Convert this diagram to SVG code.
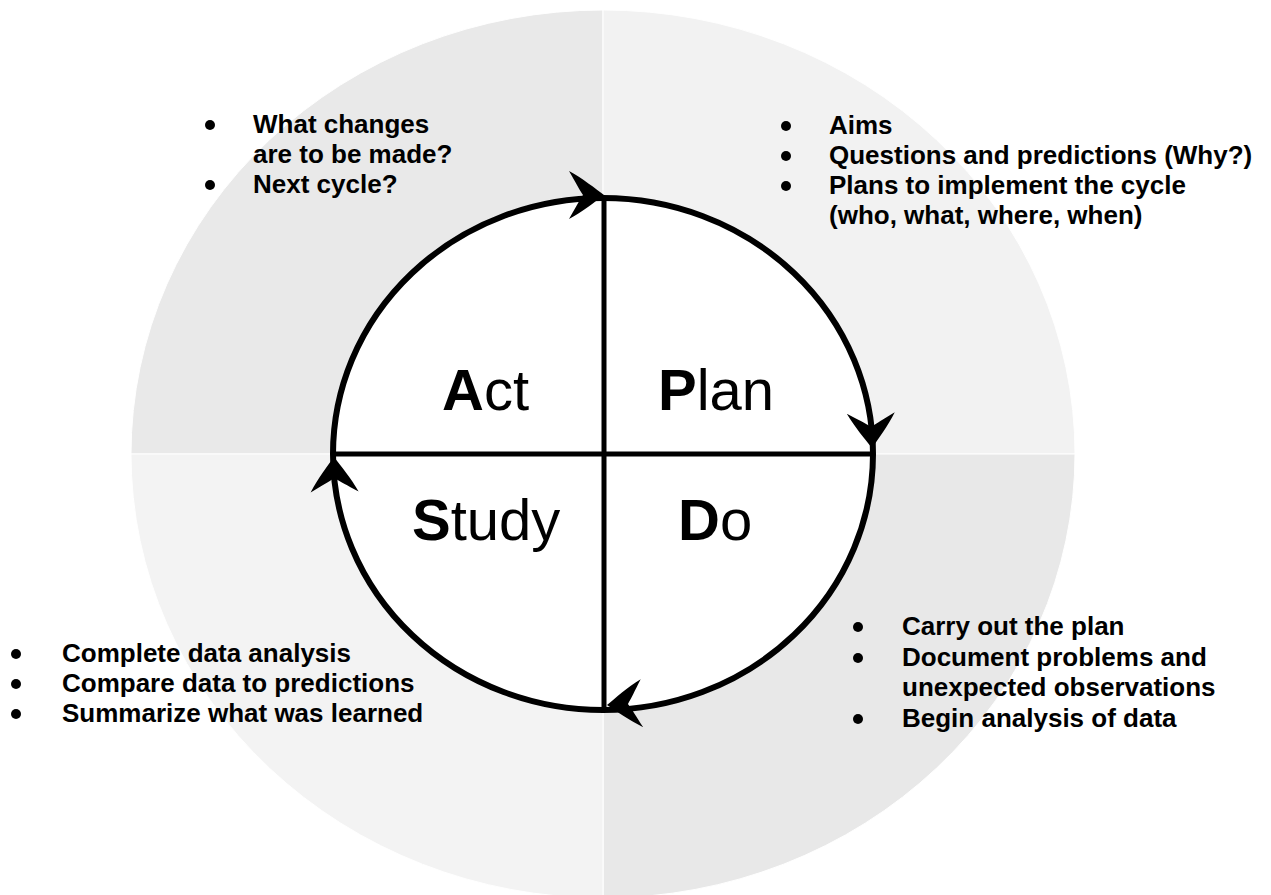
<svg xmlns="http://www.w3.org/2000/svg" width="1271" height="895" viewBox="0 0 1271 895">
  <style>
    .note { font-family: "Liberation Sans", Arial, sans-serif; font-weight: bold; font-size: 26px; fill: #000; }
    .bullet { fill: #000; }
    .big { font-family: "Liberation Sans", Arial, sans-serif; font-size: 58px; fill: #000; }
    .big .init { font-weight: bold; }
    .quad { stroke: #fff; stroke-width: 1; }
    .ring { fill: #fff; stroke: #000; stroke-width: 6; }
    .axis { stroke: #000; stroke-width: 5; fill: none; }
  </style>
  <defs>
    <!-- swept arrowhead, tip at origin pointing along +x -->
    <path id="head" d="M0,0 C-8,-6 -22,-17 -35,-24 C-28,-12 -25,-6 -21,0 C-25,6 -28,12 -35,24 C-22,17 -8,6 0,0 Z" fill="#000"/>
  </defs>

  <rect width="1271" height="895" fill="#fff"/>

  <!-- shaded background quadrants -->
  <g id="background">
    <path class="quad" d="M603,454 L131,454 A472,444 0 0 1 603,10 Z" fill="#e9e9e9"/>
    <path class="quad" d="M603,454 L603,10 A472,444 0 0 1 1075,454 Z" fill="#f2f2f2"/>
    <path class="quad" d="M603,454 L1075,454 A472,444 0 0 1 603,898 Z" fill="#e8e8e8"/>
    <path class="quad" d="M603,454 L603,898 A472,444 0 0 1 131,454 Z" fill="#f3f3f3"/>
  </g>

  <!-- cycle ring and dividers -->
  <g id="cycle">
    <ellipse class="ring" cx="603" cy="454" rx="270" ry="256"/>
    <line class="axis" x1="604" y1="198" x2="604" y2="710"/>
    <line class="axis" x1="333" y1="454" x2="873" y2="454"/>
  </g>

  <!-- direction arrows on the ring -->
  <g id="connectors">
    <use href="#head" transform="translate(604,195) rotate(0)"/>
    <use href="#head" transform="translate(872,448) rotate(88)"/>
    <use href="#head" transform="translate(607,705) rotate(177)"/>
    <use href="#head" transform="translate(334,457) rotate(-91)"/>
  </g>

  <g id="act">
    <text class="big" x="442" y="410"><tspan class="init">A</tspan>ct</text>
  </g>
  <g id="plan">
    <text class="big" x="658" y="410"><tspan class="init">P</tspan>lan</text>
  </g>
  <g id="study">
    <text class="big" x="412" y="540"><tspan class="init">S</tspan>tudy</text>
  </g>
  <g id="do">
    <text class="big" x="678" y="540"><tspan class="init">D</tspan>o</text>
  </g>

  <g id="act-notes">
    <circle class="bullet" cx="210" cy="125" r="5"/>
    <circle class="bullet" cx="210" cy="185" r="5"/>
    <text class="note" x="253" y="133">What changes</text>
    <text class="note" x="253" y="163">are to be made?</text>
    <text class="note" x="253" y="193">Next cycle?</text>
  </g>

  <g id="plan-notes">
    <circle class="bullet" cx="786" cy="126" r="5"/>
    <circle class="bullet" cx="786" cy="156" r="5"/>
    <circle class="bullet" cx="786" cy="186" r="5"/>
    <text class="note" x="829" y="134">Aims</text>
    <text class="note" x="829" y="164">Questions and predictions (Why?)</text>
    <text class="note" x="829" y="194">Plans to implement the cycle</text>
    <text class="note" x="829" y="224">(who, what, where, when)</text>
  </g>

  <g id="study-notes">
    <circle class="bullet" cx="16" cy="654" r="5"/>
    <circle class="bullet" cx="16" cy="684" r="5"/>
    <circle class="bullet" cx="16" cy="714" r="5"/>
    <text class="note" x="62" y="662">Complete data analysis</text>
    <text class="note" x="62" y="692">Compare data to predictions</text>
    <text class="note" x="62" y="722">Summarize what was learned</text>
  </g>

  <g id="do-notes">
    <circle class="bullet" cx="858" cy="627" r="5"/>
    <circle class="bullet" cx="858" cy="658" r="5"/>
    <circle class="bullet" cx="858" cy="719" r="5"/>
    <text class="note" x="902" y="635">Carry out the plan</text>
    <text class="note" x="902" y="666">Document problems and</text>
    <text class="note" x="902" y="696">unexpected observations</text>
    <text class="note" x="902" y="727">Begin analysis of data</text>
  </g>
</svg>
